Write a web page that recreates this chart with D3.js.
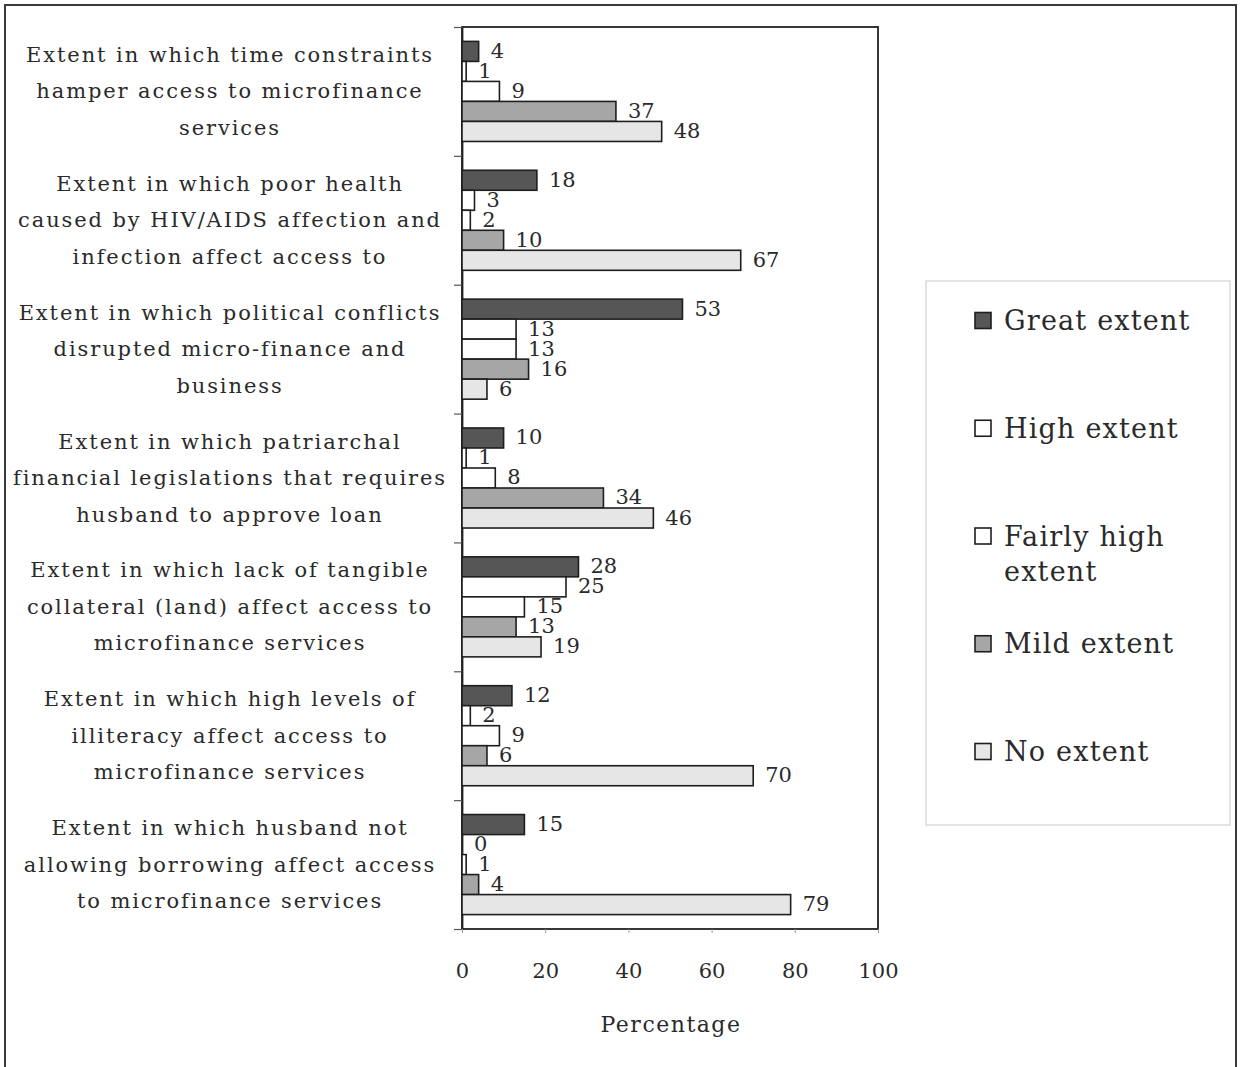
<!DOCTYPE html>
<html>
<head>
<meta charset="utf-8">
<script src="https://cdn.jsdelivr.net/npm/d3@7"></script>
<style>
  html, body { margin: 0; padding: 0; background: #fff; }
  svg { display: block; }
  text { font-family: "DejaVu Serif", serif; fill: #2a2a2a; }
</style>
</head>
<body>
<svg id="chart" width="1241" height="1067"></svg>
<script>
const categories = [
  ["Extent in which time constraints", "hamper access to microfinance", "services"],
  ["Extent in which poor health", "caused by HIV/AIDS affection and", "infection affect access to"],
  ["Extent in which political conflicts", "disrupted micro-finance and", "business"],
  ["Extent in which patriarchal", "financial legislations that requires", "husband to approve loan"],
  ["Extent in which lack of tangible", "collateral (land) affect access to", "microfinance services"],
  ["Extent in which high levels of", "illiteracy affect access to", "microfinance services"],
  ["Extent in which husband not", "allowing borrowing affect access", "to microfinance services"]
];
const seriesNames = ["Great extent", "High extent", "Fairly high extent", "Mild extent", "No extent"];
const greatExtent     = [4, 18, 53, 10, 28, 12, 15];
const highExtent      = [1, 3, 13, 1, 25, 2, 0];
const fairlyHighExtent= [9, 2, 13, 8, 15, 9, 1];
const mildExtent      = [37, 10, 16, 34, 13, 6, 4];
const noExtent        = [48, 67, 6, 46, 19, 70, 79];
const xTicks = [0, 20, 40, 60, 80, 100];
const xTitle = "Percentage";

const seriesValues = [greatExtent, highExtent, fairlyHighExtent, mildExtent, noExtent];
const colors = ["#565656", "#ffffff", "#ffffff", "#a6a6a6", "#e6e6e6"];

const svg = d3.select("#chart");

// outer frame
svg.append("path")
  .attr("d", "M5,1067 L5,5 L1236,5 L1236,1067")
  .attr("fill", "none").attr("stroke", "#3a3a3a").attr("stroke-width", 2);

const plot = { left: 462, right: 878, top: 27, bottom: 929 };
const x = d3.scaleLinear().domain([0, 100]).range([plot.left, plot.right]);
const catIdx = d3.range(categories.length);
const y0 = d3.scaleBand().domain(catIdx).range([plot.top, plot.bottom]).padding(0);
const y1 = d3.scaleBand().domain(d3.range(seriesNames.length))
  .range([0, y0.bandwidth()]).paddingInner(0).paddingOuter(0.72);

// plot border
svg.append("rect")
  .attr("x", plot.left).attr("y", plot.top)
  .attr("width", plot.right - plot.left).attr("height", plot.bottom - plot.top)
  .attr("fill", "none").attr("stroke", "#222").attr("stroke-width", 1.8);

// category boundary ticks
const yb = d3.scaleLinear().domain([0, categories.length]).range([plot.top, plot.bottom]);
svg.append("g")
  .attr("transform", `translate(${plot.left},0)`)
  .call(d3.axisLeft(yb).tickValues(d3.range(categories.length + 1)).tickFormat("").tickSize(8).tickSizeOuter(0))
  .call(g => g.select(".domain").attr("stroke", "#222").attr("stroke-width", 1.8))
  .call(g => g.selectAll(".tick line").attr("stroke", "#555").attr("stroke-width", 1.2));

// x axis
svg.append("g")
  .attr("transform", `translate(0,${plot.bottom})`)
  .call(d3.axisBottom(x).tickValues(xTicks).tickSize(4).tickSizeOuter(0).tickPadding(30))
  .call(g => g.select(".domain").remove())
  .call(g => g.selectAll(".tick line").attr("stroke", "#999").attr("stroke-width", 1))
  .call(g => g.selectAll(".tick text").attr("font-family", "DejaVu Serif").attr("font-size", 21).attr("fill", "#2a2a2a"));

svg.append("text")
  .attr("x", (plot.left + plot.right) / 2 + 1).attr("y", 1032)
  .attr("text-anchor", "middle").attr("font-size", 22).attr("letter-spacing", 1.5)
  .text(xTitle);

// bars
const groups = svg.append("g").selectAll("g")
  .data(catIdx).join("g")
  .attr("transform", d => `translate(0,${y0(d)})`);

groups.selectAll("rect")
  .data(ci => seriesValues.map((vals, si) => ({ si, v: vals[ci] })))
  .join("rect")
  .attr("x", x(0))
  .attr("y", d => y1(d.si))
  .attr("width", d => x(d.v) - x(0))
  .attr("height", y1.bandwidth())
  .attr("fill", d => colors[d.si])
  .attr("stroke", "#1e1e1e").attr("stroke-width", 1.6);

groups.selectAll("text.val")
  .data(ci => seriesValues.map((vals, si) => ({ si, v: vals[ci] })))
  .join("text").attr("class", "val")
  .attr("x", d => x(d.v) + 12)
  .attr("y", d => y1(d.si) + y1.bandwidth() / 2 + 6.5)
  .attr("font-size", 21)
  .text(d => d.v);

// category labels
const lineH = 36.5;
svg.append("g").selectAll("text.cat")
  .data(catIdx).join("text").attr("class", "cat")
  .attr("text-anchor", "middle")
  .attr("font-size", 21).attr("letter-spacing", 1.9)
  .each(function (ci) {
    const lines = categories[ci];
    const cy = y0(ci) + y0.bandwidth() / 2;
    d3.select(this).selectAll("tspan").data(lines).join("tspan")
      .attr("x", 230)
      .attr("y", (d, i) => cy + (i - (lines.length - 1) / 2) * lineH + 7)
      .text(d => d);
  });

// legend
svg.append("rect")
  .attr("x", 926).attr("y", 281).attr("width", 304).attr("height", 544)
  .attr("fill", "#fff").attr("stroke", "#c8c8c8").attr("stroke-width", 1);

const legendLines = [["Great extent"], ["High extent"], ["Fairly high", "extent"], ["Mild extent"], ["No extent"]];
const ly = d3.scaleLinear().domain([0, 4]).range([320, 751]);
const lg = svg.append("g").selectAll("g").data(d3.range(seriesNames.length)).join("g")
  .attr("transform", i => `translate(0,${ly(i)})`);
lg.append("rect")
  .attr("x", 975).attr("y", -7.5).attr("width", 16).attr("height", 16)
  .attr("fill", i => colors[i]).attr("stroke", "#1e1e1e").attr("stroke-width", 1.6);
lg.append("text")
  .attr("font-size", 27).attr("letter-spacing", 1.2)
  .each(function (i) {
    d3.select(this).selectAll("tspan").data(legendLines[i]).join("tspan")
      .attr("x", 1004).attr("y", (d, k) => 10 + k * 35)
      .text(d => d);
  });
</script>
</body>
</html>
